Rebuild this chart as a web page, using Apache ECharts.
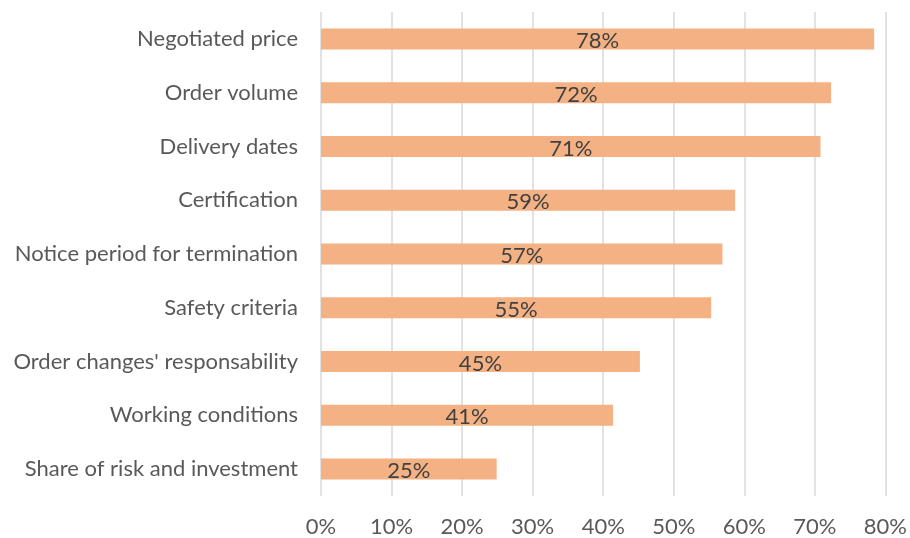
<!DOCTYPE html>
<html>
<head>
<meta charset="utf-8">
<script src="https://cdn.jsdelivr.net/npm/echarts@6/dist/echarts.min.js"></script>
<style>
  html, body { margin: 0; padding: 0; background: #fff; }
  #chart { width: 910px; height: 538px; }
</style>
</head>
<body>
<div id="chart"></div>
<script>
// categories listed top to bottom
const categories = [
  'Negotiated price',
  'Order volume',
  'Delivery dates',
  'Certification',
  'Notice period for termination',
  'Safety criteria',
  "Order changes' responsability",
  'Working conditions',
  'Share of risk and investment'
]
// share of respondents, in percent
const shares = [78.4, 72.3, 70.8, 58.7, 56.9, 55.3, 45.2, 41.4, 24.9]
const xTicks = [0, 10, 20, 30, 40, 50, 60, 70, 80]

const chart = echarts.init(document.getElementById('chart'), null, { renderer: 'canvas' })
const font = 'Lato, "Open Sans", sans-serif'

const option = {
  backgroundColor: '#fff',
  animation: false,
  grid: {
    left: 321,
    right: 21,
    top: 12,
    bottom: 41
  },
  xAxis: {
    type: 'value',
    min: xTicks[0],
    max: xTicks[xTicks.length - 1],
    interval: 10,
    axisLine: { show: false },
    axisTick: { show: false },
    splitLine: { lineStyle: { color: '#d9d9d9', width: 1.5 } },
    axisLabel: {
      margin: 20,
      fontFamily: font,
      fontSize: 22,
      color: '#595959',
      formatter: v => v + '%'
    }
  },
  yAxis: {
    type: 'category',
    inverse: true,
    data: categories,
    axisLine: { show: false },
    axisTick: { show: false },
    axisLabel: {
      margin: 23,
      fontFamily: font,
      fontSize: 22,
      color: '#595959'
    }
  },
  series: [{
    type: 'bar',
    data: shares,
    barWidth: 21,
    itemStyle: { color: '#f4b183' },
    label: {
      show: true,
      position: 'inside',
      offset: [0, 2],
      fontFamily: font,
      fontSize: 22,
      color: '#404040',
      formatter: p => Math.round(p.value) + '%'
    }
  }]
}

chart.setOption(option)
</script>
</body>
</html>
